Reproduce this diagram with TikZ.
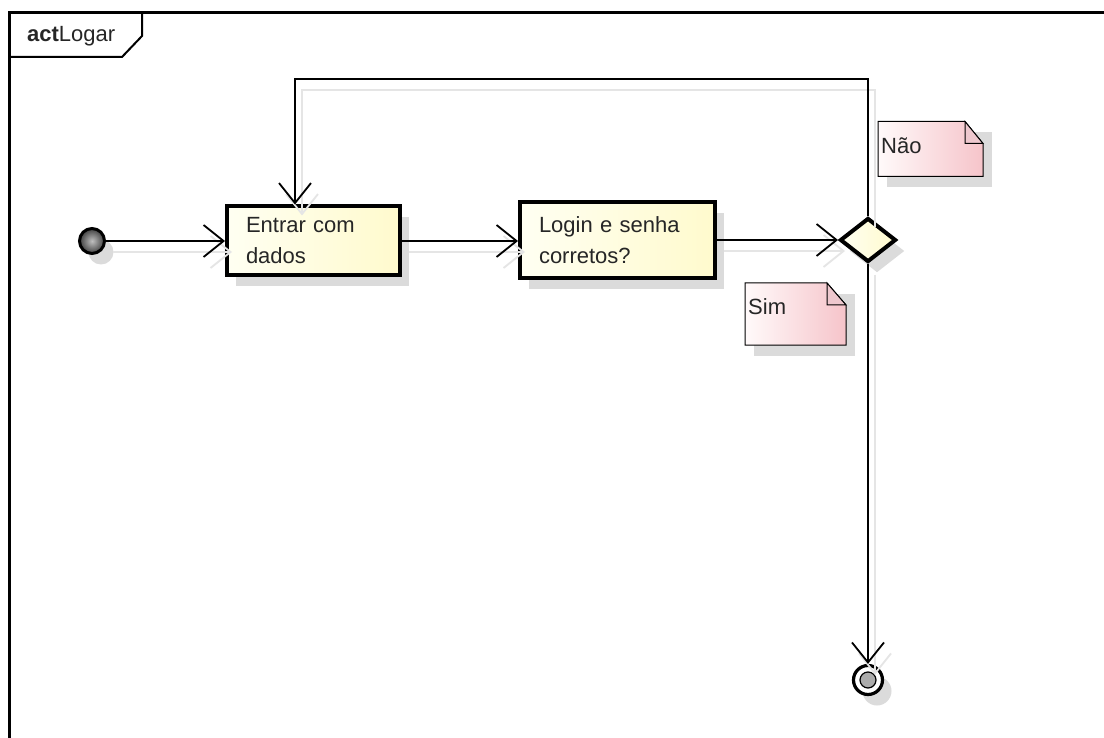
\documentclass[tikz,border=0pt]{standalone}
\usepackage{fontspec}
\setmainfont{Liberation Sans}
\usetikzlibrary{arrows.meta,shapes.geometric,shadows}
\definecolor{boxA}{RGB}{255,255,242}
\definecolor{boxB}{RGB}{255,250,205}
\definecolor{noteA}{RGB}{255,250,250}
\definecolor{noteB}{RGB}{246,196,202}
\definecolor{noteFold}{RGB}{238,200,206}
\begin{document}
\begin{tikzpicture}[x=1pt,y=-1pt,
  every node/.style={font=\fontsize{22}{31}\selectfont, text=black!85},
  softshadow/.style={drop shadow={shadow xshift=9pt, shadow yshift=-11pt, fill=black!14, opacity=1}},
  actbox/.style={rectangle, draw=black, line width=4pt, left color=boxA, right color=boxB,
    softshadow, align=left, inner xsep=19pt, inner ysep=0pt},
  decision/.style={diamond, draw=black, line width=4pt, minimum width=56pt, minimum height=44pt,
    inner sep=0pt, left color=boxA, right color=boxB, softshadow},
  initnode/.style={circle, draw=black, line width=3pt, minimum size=25pt, inner sep=0pt,
    inner color=gray!50, outer color=black!75, softshadow},
  finalnode/.style={circle, draw=black, line width=3.2pt, minimum size=29pt, inner sep=0pt,
    fill=white, softshadow,
    path picture={\fill[gray!65, draw=black, line width=1.2pt] (path picture bounding box.center) circle (8pt);}},
  conn/.style={line width=1.8pt, -{Straight Barb[length=20pt,width=32pt]},
    preaction={draw=black!10, line width=1.8pt, transform canvas={shift={(7,11)}}}},
  notearea/.style={rectangle, inner sep=0pt, outer sep=0pt, draw=none, softshadow},
  notefill/.style={draw=black, line width=1pt, left color=noteA, right color=noteB},
  notefold/.style={draw=black, line width=1pt, fill=noteFold},
  frameline/.style={draw=black, line width=3pt},
  tabline/.style={draw=black, line width=2pt}
]
\useasboundingbox (0,0) rectangle (1104,738);
\fill[white] (0,0) rectangle (1104,738);

% frame
\draw[frameline] (9,738) -- (9,13) -- (1104,13);
\draw[tabline] (9,57) -- (122,57) -- (142,36) -- (142,13);
\node[anchor=base west, inner sep=0pt] (title) at (27,42) {\textbf{act}Logar};

% notes
\node[notearea, minimum width=105pt, minimum height=55pt] (nao) at (930.5,149) {};
\draw[notefill] (nao.north west) -- ([xshift=-18pt]nao.north east) -- ([yshift=-22pt]nao.north east)
  -- (nao.south east) -- (nao.south west) -- cycle;
\draw[notefold] ([xshift=-18pt]nao.north east) -- ([xshift=-18pt,yshift=-22pt]nao.north east)
  -- ([yshift=-22pt]nao.north east) -- cycle;
\node[anchor=base west, inner sep=0pt] (naolabel) at ([xshift=3pt,yshift=-32pt]nao.north west) {Não};

\node[notearea, minimum width=101pt, minimum height=62pt] (sim) at (795.5,314) {};
\draw[notefill] (sim.north west) -- ([xshift=-19pt]sim.north east) -- ([yshift=-22pt]sim.north east)
  -- (sim.south east) -- (sim.south west) -- cycle;
\draw[notefold] ([xshift=-19pt]sim.north east) -- ([xshift=-19pt,yshift=-22pt]sim.north east)
  -- ([yshift=-22pt]sim.north east) -- cycle;
\node[anchor=base west, inner sep=0pt] (simlabel) at ([xshift=3pt,yshift=-32pt]sim.north west) {Sim};

% nodes
\node[initnode] (init) at (92,241) {};
\node[actbox, text width=135pt, minimum height=69pt] (entrar) at (313.5,241) {Entrar com\\dados};
\node[actbox, text width=157pt, minimum height=76pt] (login) at (617.5,240) {Login e senha\\corretos?};
\node[decision] (dec) at (868,240) {};
\node[finalnode] (fin) at (868,680) {};

% connectors
\coordinate (loopcorner) at (295,79);
\draw[conn] (init) -- (entrar);
\draw[conn] (entrar.east) -- (entrar.east -| login.west);
\draw[conn] (login) -- (dec);
\draw[conn] (dec.north) |- (loopcorner) -- (loopcorner |- entrar.north);
\draw[conn] (dec.south) -- (fin);
\end{tikzpicture}
\end{document}
